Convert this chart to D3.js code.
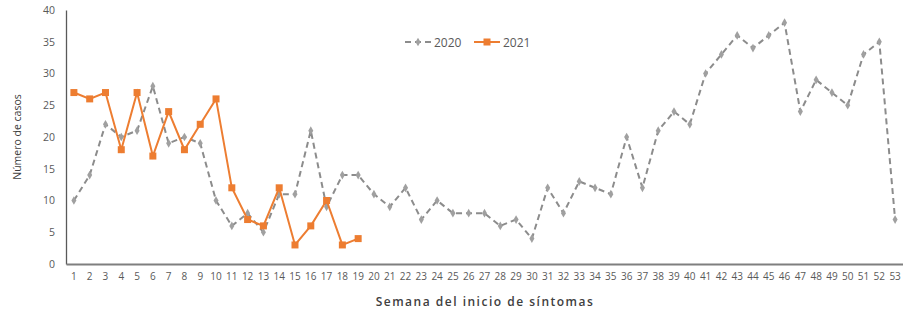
<!DOCTYPE html>
<html><head><meta charset="utf-8">
<script src="https://cdn.jsdelivr.net/npm/d3@7"></script>
<style>body{margin:0;background:#fff}svg{display:block}</style>
</head><body>
<svg id="c" width="903" height="313"></svg>
<script>
const weeks = d3.range(1, 54).map(String);
const yTicks = [0, 5, 10, 15, 20, 25, 30, 35, 40];
const series2020 = [10,14,22,20,21,28,19,20,19,10,6,8,5,11,11,21,9,14,14,11,9,12,7,10,8,8,8,6,7,4,12,8,13,12,11,20,12,21,24,22,30,33,36,34,36,38,24,29,27,25,33,35,7];
const series2021 = [27,26,27,18,27,17,24,18,22,26,12,7,6,12,3,6,10,3,4];
const seriesNames = ["2020", "2021"];

const svg = d3.select("#c");
const m = {l: 66, r: 0, t: 10, b: 49};
const W = 903, H = 313;
const x = d3.scaleBand().domain(weeks).range([m.l, W - m.r]);
const y = d3.scaleLinear().domain([0, 40]).range([H - m.b, m.t]);
const font = "'Open Sans', 'Liberation Sans', sans-serif";

const ya = svg.append("g").attr("transform", `translate(${m.l},0)`)
  .call(d3.axisLeft(y).tickValues(yTicks).tickSize(0).tickPadding(11));
ya.select(".domain").attr("stroke", "#595959").attr("stroke-width", 1.3);
ya.selectAll("text").attr("font-family", font).attr("font-size", 10.5).attr("fill", "#595959");

const xa = svg.append("g").attr("transform", `translate(0,${y(0)})`)
  .call(d3.axisBottom(x).tickSize(0).tickPadding(9));
xa.select(".domain").attr("stroke", "#7f7f7f").attr("stroke-width", 2);
xa.selectAll("text").attr("font-family", font).attr("font-size", 10).attr("fill", "#595959");

const cx = (d, i) => x(weeks[i]) + x.bandwidth() / 2;

svg.append("path").datum(series2020)
  .attr("fill", "none").attr("stroke", "#8c8c8c").attr("stroke-width", 2)
  .attr("stroke-dasharray", "6,4")
  .attr("d", d3.line().x(cx).y(d => y(d)));
svg.append("g").selectAll("path").data(series2020).join("path")
  .attr("transform", (d, i) => `translate(${cx(d, i)},${y(d)})`)
  .attr("d", d3.symbol(d3.symbolDiamond, 22))
  .attr("fill", "#a0a0a0");

svg.append("path").datum(series2021)
  .attr("fill", "none").attr("stroke", "#ED7D31").attr("stroke-width", 2)
  .attr("d", d3.line().x(cx).y(d => y(d)));
svg.append("g").selectAll("rect").data(series2021).join("rect")
  .attr("x", (d, i) => cx(d, i) - 3.5).attr("y", d => y(d) - 3.5)
  .attr("width", 7).attr("height", 7).attr("fill", "#ED7D31");

const lg = svg.append("g");
lg.append("line").attr("x1", 405).attr("x2", 432).attr("y1", 42).attr("y2", 42)
  .attr("stroke", "#8c8c8c").attr("stroke-width", 2).attr("stroke-dasharray", "6,4");
lg.append("path").attr("transform", "translate(418,42)").attr("d", d3.symbol(d3.symbolDiamond, 22)).attr("fill", "#a0a0a0");
lg.append("text").attr("x", 434).attr("y", 46.5).text(seriesNames[0])
  .attr("font-family", font).attr("font-size", 12).attr("fill", "#595959");
lg.append("line").attr("x1", 474).attr("x2", 500).attr("y1", 42).attr("y2", 42)
  .attr("stroke", "#ED7D31").attr("stroke-width", 2);
lg.append("rect").attr("x", 483.5).attr("y", 38.5).attr("width", 7).attr("height", 7).attr("fill", "#ED7D31");
lg.append("text").attr("x", 503).attr("y", 46.5).text(seriesNames[1])
  .attr("font-family", font).attr("font-size", 12).attr("fill", "#595959");

svg.append("text").attr("transform", "translate(21,137) rotate(-90)")
  .attr("text-anchor", "middle").text("Número de casos")
  .attr("font-family", font).attr("font-size", 10.5).attr("fill", "#404040");
svg.append("text").attr("x", 485).attr("y", 306).attr("text-anchor", "middle")
  .text("Semana del inicio de síntomas")
  .attr("font-family", font).attr("font-size", 12).attr("font-weight", 600)
  .attr("letter-spacing", 1.5).attr("fill", "#404040");
</script>
</body></html>
